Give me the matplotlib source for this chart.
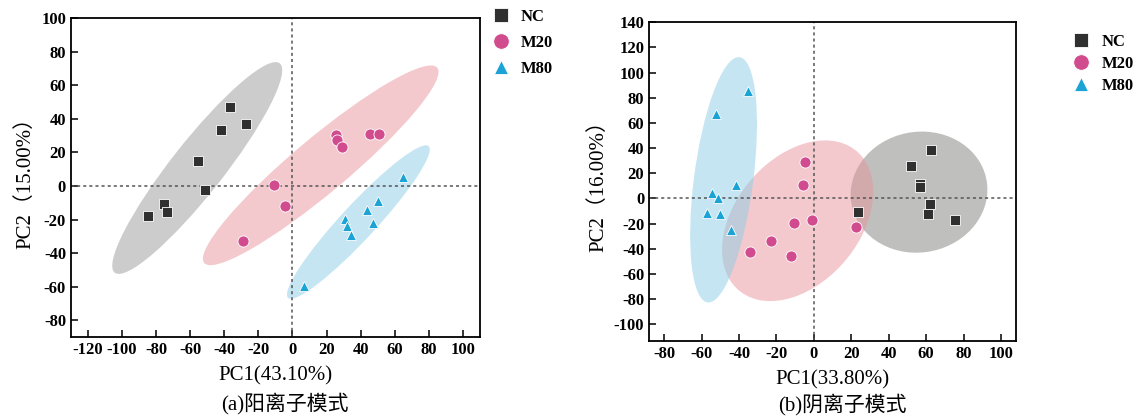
import numpy as np
import matplotlib.pyplot as plt
from matplotlib.patches import Ellipse

plt.rcParams['axes.unicode_minus'] = False

# (a) positive ion mode
a_nc_x = [-36.9, -41.8, -27.5, -55.6, -51.5, -75.5, -73.8, -84.5]
a_nc_y = [46.8, 33.5, 36.9, 14.9, -2.6, -10.7, -15.5, -17.7]
a_m20_x = [25.4, 26.0, 29.3, 45.5, 50.6, -10.9, -4.1, -29.1]
a_m20_y = [30.6, 27.6, 23.0, 30.8, 30.8, 0.4, -11.9, -32.9]
a_m80_x = [64.8, 50.2, 43.5, 30.6, 32.0, 47.2, 34.5, 6.8]
a_m80_y = [5.2, -9.1, -14.3, -19.4, -23.6, -22.0, -29.0, -59.7]

# (b) negative ion mode
b_nc_x = [62.6, 51.8, 56.6, 56.6, 62.3, 60.9, 75.3, 23.4]
b_nc_y = [38.2, 25.8, 11.2, 9.1, -4.5, -12.2, -16.9, -10.8]
b_m20_x = [-4.7, -5.8, -1.2, -10.6, 22.3, -23.1, -34.1, -12.1]
b_m20_y = [29.3, 11.0, -17.2, -19.5, -22.7, -33.8, -42.9, -46.1]
b_m80_x = [-35.4, -52.1, -41.4, -54.6, -51.0, -57.2, -50.1, -44.4]
b_m80_y = [85.5, 66.9, 10.7, 4.3, 0.3, -11.6, -12.4, -25.4]

groups = ['NC', 'M20', 'M80']
markers = ['s', 'o', '^']
colors = ['#303030', '#d14b8f', '#1ba3d6']
fills_a = ['#9a9a9a', '#e8959d', '#8ccde6']
fills_b = ['#80837d', '#e8959d', '#8ccde6']

serif = ['Liberation Serif', 'Noto Sans CJK SC']


def conf_ellipse(ax, x, y, color):
    # 95% confidence ellipse from sample covariance
    x = np.asarray(x)
    y = np.asarray(y)
    cov = np.cov(x, y)
    vals, vecs = np.linalg.eigh(cov)
    order = vals.argsort()[::-1]
    vals, vecs = vals[order], vecs[:, order]
    angle = np.degrees(np.arctan2(vecs[1, 0], vecs[0, 0]))
    k = np.sqrt(5.991)
    e = Ellipse((x.mean(), y.mean()), 2 * k * np.sqrt(vals[0]), 2 * k * np.sqrt(vals[1]),
                angle=angle, facecolor=color, alpha=0.5, edgecolor='none', zorder=1)
    ax.add_patch(e)


def panel(ax, data, fills, xlim, ylim, xticks, yticks):
    for (x, y), f in zip(data, fills):
        conf_ellipse(ax, x, y, f)
    ax.axhline(0, color='#555555', lw=1.1, ls=(0, (2, 2)), zorder=2)
    ax.axvline(0, color='#555555', lw=1.1, ls=(0, (2, 2)), zorder=2)
    sizes = [7.5, 8, 7.5]
    for (x, y), m, c, g, s in zip(data, markers, colors, groups, sizes):
        ax.plot(x, y, ls='none', marker=m, color=c, markersize=s,
                markeredgecolor='white', markeredgewidth=0.6, label=g, zorder=3)
    ax.set_xlim(*xlim)
    ax.set_ylim(*ylim)
    ax.set_xticks(xticks)
    ax.set_yticks(yticks)
    ax.tick_params(direction='in', length=5, width=1.1, top=False, right=False)
    for lab in ax.get_xticklabels() + ax.get_yticklabels():
        lab.set_family('Liberation Serif')
        lab.set_fontweight('bold')
        lab.set_fontsize(12)
    for sp in ax.spines.values():
        sp.set_linewidth(1.3)


fig = plt.figure(figsize=(11.39, 4.19), dpi=100)
ax1 = fig.add_axes([0.0623, 0.1957, 0.359, 0.761])
ax2 = fig.add_axes([0.570, 0.187, 0.322, 0.760])

panel(ax1, [(a_nc_x, a_nc_y), (a_m20_x, a_m20_y), (a_m80_x, a_m80_y)], fills_a,
      (-130, 110), (-90, 100), range(-120, 101, 20), range(-80, 101, 20))
panel(ax2, [(b_nc_x, b_nc_y), (b_m20_x, b_m20_y), (b_m80_x, b_m80_y)], fills_b,
      (-88, 108), (-113, 140), range(-80, 101, 20), range(-100, 141, 20))

leg_font = {'family': 'Liberation Serif', 'weight': 'bold', 'size': 12}
ax1.legend(loc='upper left', bbox_to_anchor=(0.99, 1.075), frameon=False, prop=leg_font,
           markerscale=1.4, handletextpad=0.6, labelspacing=0.6, handlelength=1.2)
ax2.legend(loc='upper left', bbox_to_anchor=(1.11, 1.01), frameon=False, prop=leg_font,
           markerscale=1.4, handletextpad=0.6, labelspacing=0.35, handlelength=1.2)

ax1.set_ylabel('PC2（15.00%）', family=serif, fontsize=15, labelpad=4)
ax2.set_ylabel('PC2（16.00%）', family=serif, fontsize=15, labelpad=4)
ax1.set_xlabel('PC1(43.10%)', family=serif, fontsize=15, labelpad=6)
ax2.set_xlabel('PC1(33.80%)', family=serif, fontsize=15, labelpad=6)

fig.text(0.25, 0.022, '(a)阳离子模式', family=serif, fontsize=15, ha='center')
fig.text(0.74, 0.02, '(b)阴离子模式', family=serif, fontsize=15, ha='center')

fig.savefig('out.png', dpi=100)
